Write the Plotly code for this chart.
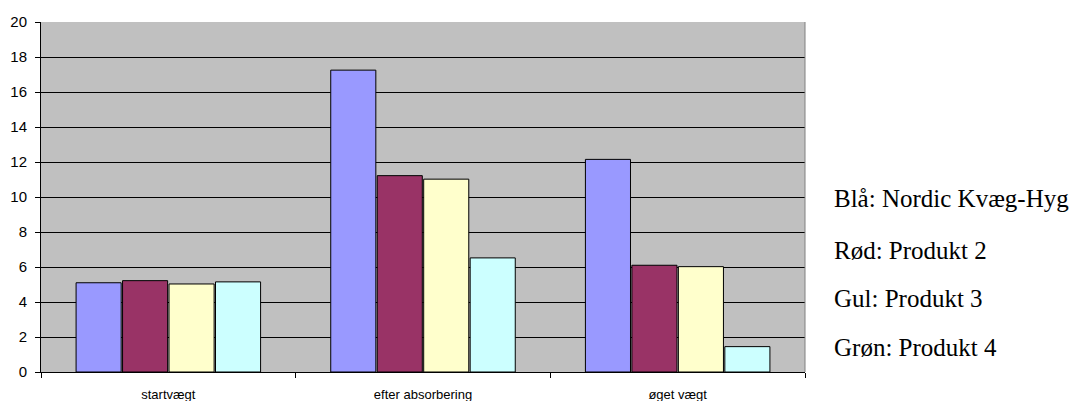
import plotly.graph_objects as go

categories = ["startvægt", "efter absorbering", "øget vægt"]
series_names = ["Nordic Kvæg-Hyg", "Produkt 2", "Produkt 3", "Produkt 4"]
blaa = [5.1, 17.25, 12.15]
roed = [5.22, 11.22, 6.1]
gul = [5.03, 11.02, 6.02]
groen = [5.15, 6.52, 1.45]
colors = ["#9999FF", "#993366", "#FFFFCC", "#CCFFFF"]
legend_lines = ["Blå: Nordic Kvæg-Hyg", "Rød: Produkt 2", "Gul: Produkt 3", "Grøn: Produkt 4"]
y_ticks = [0, 2, 4, 6, 8, 10, 12, 14, 16, 18, 20]

fig = go.Figure()
for name, vals, col in zip(series_names, [blaa, roed, gul, groen], colors):
    fig.add_trace(go.Bar(x=categories, y=vals, name=name, marker=dict(color=col, line=dict(color="#000000", width=1))))

# page body has an 8px margin; work in figure coordinates
OFF = 8
L, R, T, B = 41 - OFF, 805 - OFF, 22 - OFF, 372 - OFF
W, H = 1084 - OFF, 401 - OFF
fig.update_layout(
    width=W, height=H,
    margin=dict(l=L, r=W - R, t=T, b=H - B, autoexpand=False),
    paper_bgcolor="white",
    plot_bgcolor="#C0C0C0",
    barmode="group",
    bargap=0.27,
    bargroupgap=0.03,
    showlegend=False,
    font=dict(family="Liberation Sans, Arial", size=12, color="black"),
)
fig.update_yaxes(
    range=[0, 20], tickvals=y_ticks, showgrid=True, gridcolor="black", gridwidth=1,
    showline=True, linecolor="black", linewidth=1, ticks="outside", ticklen=5, tickcolor="black",
    zeroline=False, tickfont=dict(size=15), automargin=False, ticklabelstandoff=5,
)
fig.update_xaxes(
    showline=True, linecolor="black", linewidth=1, ticks="outside", ticklen=5, tickcolor="black",
    tickson="boundaries", tickfont=dict(size=13), ticklabelstandoff=10, automargin=False,
)
fig.add_shape(type="line", xref="paper", yref="paper", x0=1, x1=1, y0=0, y1=1,
              line=dict(color="#808080", width=1))

ys = [198, 250, 298, 347]
for txt, yy in zip(legend_lines, ys):
    fig.add_annotation(
        text=txt, xref="paper", yref="paper",
        x=(832 - OFF - L) / (R - L), y=(B - (yy - OFF)) / (B - T),
        xanchor="left", yanchor="middle", showarrow=False,
        font=dict(family="Liberation Serif, Times New Roman", size=25, color="black"),
    )

fig.write_html("out.html")
